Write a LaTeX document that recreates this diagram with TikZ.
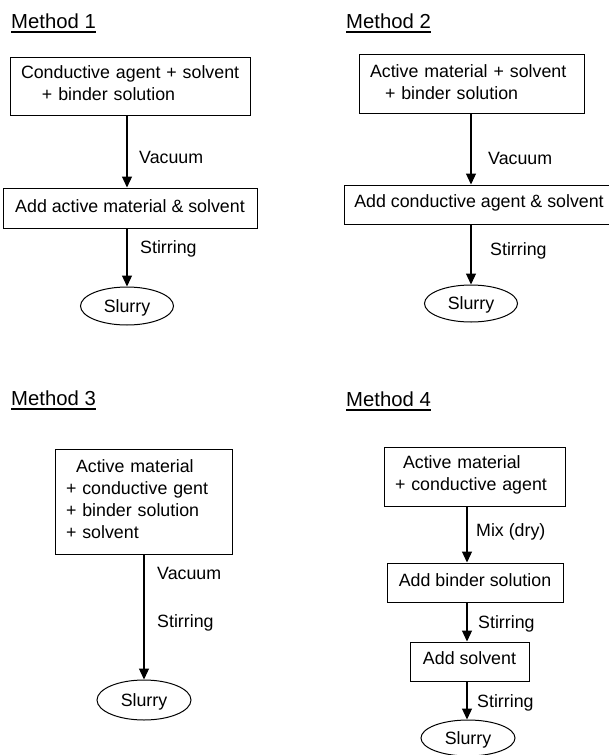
\documentclass[tikz,border=0pt]{standalone}
\usepackage{fontspec}
\setmainfont{Liberation Sans}
\usetikzlibrary{arrows.meta,shapes.geometric}
\begin{document}
\begin{tikzpicture}[x=1pt,y=-1pt,
  every node/.style={font=\fontsize{17.8}{22}\selectfont, inner sep=0pt},
  box/.style={draw, line width=1pt, rectangle},
  slurry/.style={draw, ellipse, line width=1pt, text height=12pt, text depth=0pt},
  title/.style={font=\fontsize{20.3}{22}\selectfont, anchor=base west},
  lbl/.style={anchor=base west},
  arr/.style={line width=1.2pt, -{Triangle[width=10pt,length=11pt]}},
  uline/.style={line width=1.3pt}
]
\useasboundingbox (0,0) rectangle (608,755);

% column x coordinates of the arrows
\coordinate (x1) at (127,0);
\coordinate (x2) at (471,0);
\coordinate (x3) at (144,0);
\coordinate (x4) at (467,0);

% ---------------- Method 1 ----------------
\node[title] (t1) at (11,28) {Method 1};
\draw[uline] ([yshift=-4pt]t1.base west) -- ([yshift=-4pt]t1.base east);

\node[box, align=left, text width=240pt, minimum width=240pt, minimum height=58pt,
      text height=12pt, text depth=28pt] (m1a) at (130,86)
  {\hspace*{11pt}Conductive agent + solvent\\\hspace*{32pt}+ binder solution};
\node[box, minimum width=254pt, minimum height=40pt, text height=12pt, text depth=4pt]
  (m1b) at (130,208) {Add active material \& solvent};
\node[slurry, minimum width=93pt, minimum height=38pt] (m1e) at (127,306) {Slurry};

\draw[arr] (m1a.south -| x1) -- (m1b.north -| x1);
\draw[arr] (m1b.south -| x1) -- (m1e.north);
\node[lbl] (m1v) at (139,163) {Vacuum};
\node[lbl] (m1s) at (140,253) {Stirring};

% ---------------- Method 2 ----------------
\node[title] (t2) at (346,28) {Method 2};
\draw[uline] ([yshift=-4pt]t2.base west) -- ([yshift=-4pt]t2.base east);

\node[box, align=left, text width=225pt, minimum width=225pt, minimum height=59pt,
      text height=12pt, text depth=25pt] (m2a) at (471.5,83.5)
  {\hspace*{11pt}Active material + solvent\\\hspace*{26pt}+ binder solution};
\node[box, minimum width=270pt, minimum height=39pt, text height=12pt, text depth=7pt]
  (m2b) at (479,204.5) {Add conductive agent \& solvent};
\node[slurry, minimum width=93pt, minimum height=37pt] (m2e) at (471,303.5) {Slurry};

\draw[arr] (m2a.south -| x2) -- (m2b.north -| x2);
\draw[arr] (m2b.south -| x2) -- (m2e.north);
\node[lbl] (m2v) at (488,164) {Vacuum};
\node[lbl] (m2s) at (490,255) {Stirring};

% ---------------- Method 3 ----------------
\node[title] (t3) at (11,405) {Method 3};
\draw[uline] ([yshift=-4pt]t3.base west) -- ([yshift=-4pt]t3.base east);

\node[box, align=left, text width=177pt, minimum width=177pt, minimum height=105pt,
      text height=12pt, text depth=71pt] (m3a) at (143.5,501.5)
  {\hspace*{21pt}Active material\\\hspace*{11pt}+ conductive gent\\\hspace*{11pt}+ binder solution\\\hspace*{11pt}+ solvent};
\node[slurry, minimum width=94pt, minimum height=40pt] (m3e) at (144,700) {Slurry};

\draw[arr] (m3a.south -| x3) -- (m3e.north);
\node[lbl] (m3v) at (157,579) {Vacuum};
\node[lbl] (m3s) at (157,627) {Stirring};

% ---------------- Method 4 ----------------
\node[title] (t4) at (346,406) {Method 4};
\draw[uline] ([yshift=-4pt]t4.base west) -- ([yshift=-4pt]t4.base east);

\node[box, align=left, text width=181pt, minimum width=181pt, minimum height=59pt,
      text height=12pt, text depth=29pt] (m4a) at (474.5,476.5)
  {\hspace*{19pt}Active material\\\hspace*{11pt}+ conductive agent};
\node[box, minimum width=176pt, minimum height=39pt, text height=12pt, text depth=5pt]
  (m4b) at (475,582.5) {Add binder solution};
\node[box, minimum width=119pt, minimum height=39pt, text height=12pt, text depth=7pt]
  (m4c) at (469.5,661.5) {Add solvent};
\node[slurry, minimum width=94pt, minimum height=36pt] (m4e) at (468,738) {Slurry};

\draw[arr] (m4a.south -| x4) -- (m4b.north -| x4);
\draw[arr] (m4b.south -| x4) -- (m4c.north -| x4);
\draw[arr] (m4c.south -| x4) -- (m4e.north -| x4);
\node[lbl] (m4m) at (476,536) {Mix (dry)};
\node[lbl] (m4s1) at (478,628) {Stirring};
\node[lbl] (m4s2) at (477,707) {Stirring};
\end{tikzpicture}
\end{document}
